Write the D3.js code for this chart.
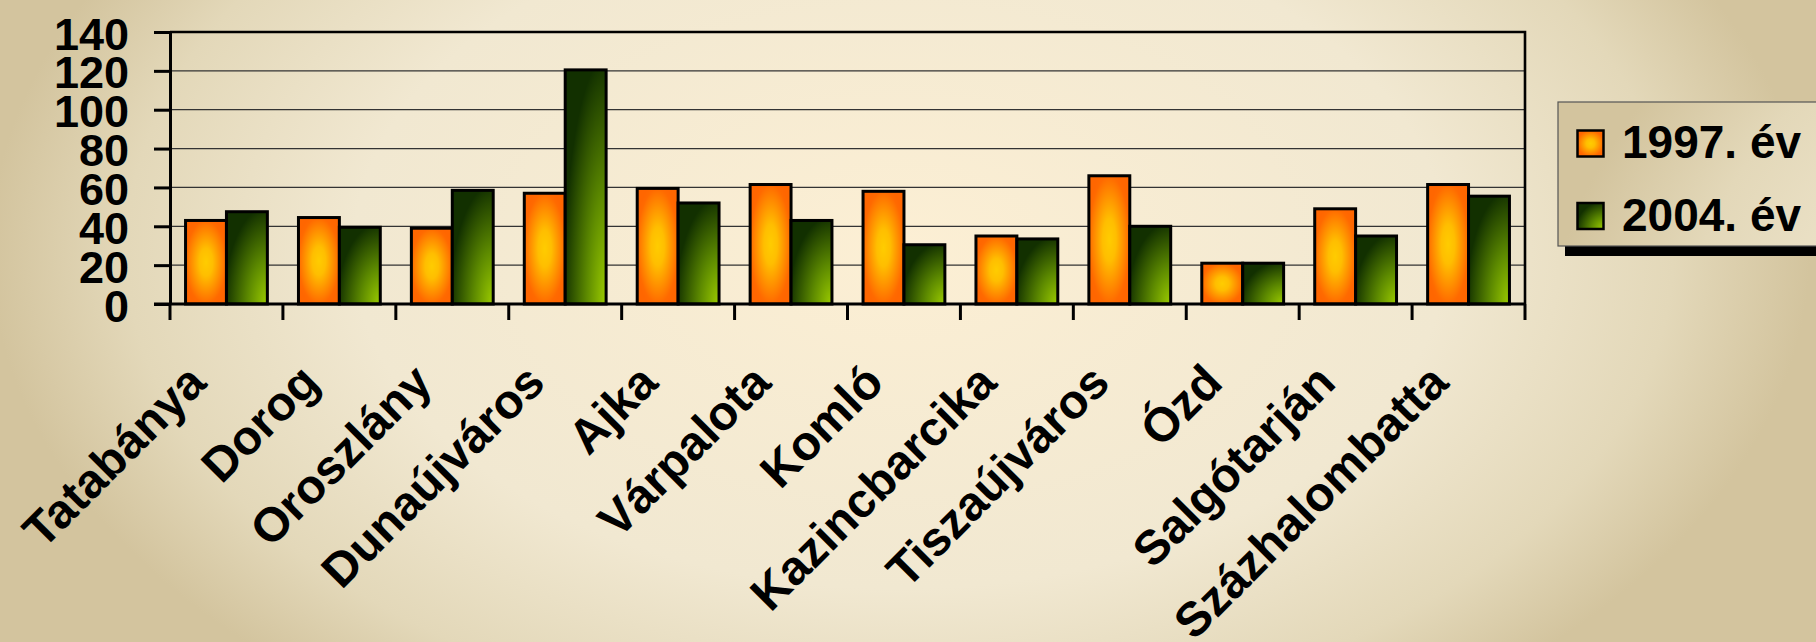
<!DOCTYPE html>
<html>
<head>
<meta charset="utf-8">
<script src="https://cdn.jsdelivr.net/npm/d3@7"></script>
<style>
  html, body { margin: 0; padding: 0; overflow: hidden; }
  svg { display: block; font-family: "Liberation Sans", Arial, Helvetica, sans-serif; font-weight: bold; }
</style>
</head>
<body>
<svg width="1816" height="642"></svg>
<script>
const cities = ["Tatabánya", "Dorog", "Oroszlány", "Dunaújváros", "Ajka", "Várpalota",
  "Komló", "Kazincbarcika", "Tiszaújváros", "Ózd", "Salgótarján", "Százhalombatta"];
const values1997 = [43, 44.5, 39, 57, 59.5, 61.5, 58, 35, 66, 21, 49, 61.5];
const values2004 = [47.5, 39.5, 58.5, 120.5, 52, 43, 30.5, 33.5, 40, 21, 35, 55.5];
const seriesNames = ["1997. év", "2004. év"];
const yTicks = [0, 20, 40, 60, 80, 100, 120, 140];

const width = 1816;
const height = 642;
const margin = { top: 32, right: 291, bottom: 338, left: 170 };

const svg = d3.select("svg");
const defs = svg.append("defs");

// page background: light cream centre, tan towards the edges
const bg = defs.append("radialGradient")
  .attr("id", "bg")
  .attr("gradientUnits", "userSpaceOnUse")
  .attr("cx", 900).attr("cy", 250).attr("r", 910)
  .attr("gradientTransform", "translate(900,250) scale(1,0.62) translate(-900,-250)");
bg.append("stop").attr("offset", 0).attr("stop-color", "#fcefd4");
bg.append("stop").attr("offset", 0.6).attr("stop-color", "#f1e8d1");
bg.append("stop").attr("offset", 0.85).attr("stop-color", "#e3d8b9");
bg.append("stop").attr("offset", 1).attr("stop-color", "#d3c49e");

// orange bars: yellow in the middle, orange at the edges
const gOrange = defs.append("radialGradient")
  .attr("id", "orange")
  .attr("cx", 0.5).attr("cy", 0.5).attr("r", 0.55);
gOrange.append("stop").attr("offset", 0).attr("stop-color", "#ffcc00");
gOrange.append("stop").attr("offset", 0.3).attr("stop-color", "#ffbe00");
gOrange.append("stop").attr("offset", 0.9).attr("stop-color", "#ff6a00");
gOrange.append("stop").attr("offset", 1).attr("stop-color", "#ff6600");

// green bars: bright at the bottom right, dark green top and left
const gGreen = defs.append("radialGradient")
  .attr("id", "green")
  .attr("cx", 1).attr("cy", 1).attr("r", 1.05);
gGreen.append("stop").attr("offset", 0).attr("stop-color", "#9ccc00");
gGreen.append("stop").attr("offset", 0.45).attr("stop-color", "#5d8a00");
gGreen.append("stop").attr("offset", 1).attr("stop-color", "#123000");

const fills = ["url(#orange)", "url(#green)"];

svg.append("rect")
  .attr("width", width).attr("height", height)
  .attr("fill", "url(#bg)");

const x = d3.scaleBand()
  .domain(cities)
  .range([margin.left, width - margin.right]);

const xSub = d3.scaleBand()
  .domain(seriesNames)
  .range([0, x.bandwidth()])
  .paddingOuter(0.38);

const y = d3.scaleLinear()
  .domain([0, 140])
  .range([height - margin.bottom, margin.top]);

// gridlines
svg.append("g")
  .selectAll("line")
  .data(yTicks.filter(d => d > 0 && d < 140))
  .join("line")
  .attr("x1", margin.left).attr("x2", width - margin.right)
  .attr("y1", d => y(d)).attr("y2", d => y(d))
  .attr("stroke", "#333").attr("stroke-width", 1.3);

// top and right border of the plot
svg.append("path")
  .attr("d", `M${margin.left},${y(140)}H${width - margin.right}V${y(0)}`)
  .attr("fill", "none").attr("stroke", "#000").attr("stroke-width", 2.6);

// bars
const rows = cities.map((c, i) => ({ city: c, vals: [values1997[i], values2004[i]] }));
svg.append("g")
  .selectAll("g")
  .data(rows)
  .join("g")
  .attr("transform", d => `translate(${x(d.city)},0)`)
  .selectAll("rect")
  .data(d => d.vals.map((v, k) => ({ key: seriesNames[k], k, v })))
  .join("rect")
  .attr("x", d => xSub(d.key))
  .attr("y", d => y(d.v))
  .attr("width", xSub.bandwidth())
  .attr("height", d => y(0) - y(d.v))
  .attr("fill", d => fills[d.k])
  .attr("stroke", "#000")
  .attr("stroke-width", 3);

// y axis
const yAxis = svg.append("g")
  .attr("transform", `translate(${margin.left},0)`)
  .call(d3.axisLeft(y).tickValues(yTicks).tickSize(16).tickSizeOuter(0).tickPadding(25));
yAxis.select(".domain").attr("stroke", "#000").attr("stroke-width", 3);
yAxis.selectAll(".tick line").attr("stroke", "#000").attr("stroke-width", 3);
yAxis.selectAll(".tick text")
  .attr("font-size", 45)
  .attr("font-family", "'Liberation Sans', Arial, sans-serif")
  .attr("font-weight", "bold")
  .attr("fill", "#000")
  .attr("dy", "0.38em");

// x axis: baseline and ticks at category boundaries
const xg = svg.append("g");
xg.append("line")
  .attr("x1", margin.left - 16).attr("x2", width - margin.right)
  .attr("y1", y(0)).attr("y2", y(0))
  .attr("stroke", "#000").attr("stroke-width", 3);
const bounds = cities.map(c => x(c)).concat([x.range()[1]]);
xg.selectAll(".xt")
  .data(bounds)
  .join("line")
  .attr("class", "xt")
  .attr("x1", d => d).attr("x2", d => d)
  .attr("y1", y(0)).attr("y2", y(0) + 16)
  .attr("stroke", "#000").attr("stroke-width", 3);

xg.selectAll("text")
  .data(cities)
  .join("text")
  .attr("transform", d => `translate(${x(d) + x.bandwidth() / 2 - 18},${y(0) + 81}) rotate(-45)`)
  .attr("text-anchor", "end")
  .attr("font-size", 48)
  .attr("fill", "#000")
  .text(d => d);

// legend
const lg = svg.append("g").attr("transform", "translate(1558,102)");
lg.append("rect")
  .attr("x", 7).attr("y", 10)
  .attr("width", 300).attr("height", 144)
  .attr("fill", "#000");
lg.append("rect")
  .attr("width", 300).attr("height", 144)
  .attr("fill", "url(#bg)")
  .attr("stroke", "#555").attr("stroke-width", 1.2);
const items = lg.selectAll(".item")
  .data(seriesNames)
  .join("g")
  .attr("class", "item")
  .attr("transform", (d, i) => `translate(0,${i * 72.5})`);
items.append("rect")
  .attr("x", 19.5).attr("y", 28.5)
  .attr("width", 26).attr("height", 26)
  .attr("fill", (d, i) => fills[i])
  .attr("stroke", "#000").attr("stroke-width", 2.5);
items.append("text")
  .attr("x", 64).attr("y", 56)
  .attr("font-size", 46)
  .attr("fill", "#000")
  .text(d => d);
</script>
</body>
</html>
